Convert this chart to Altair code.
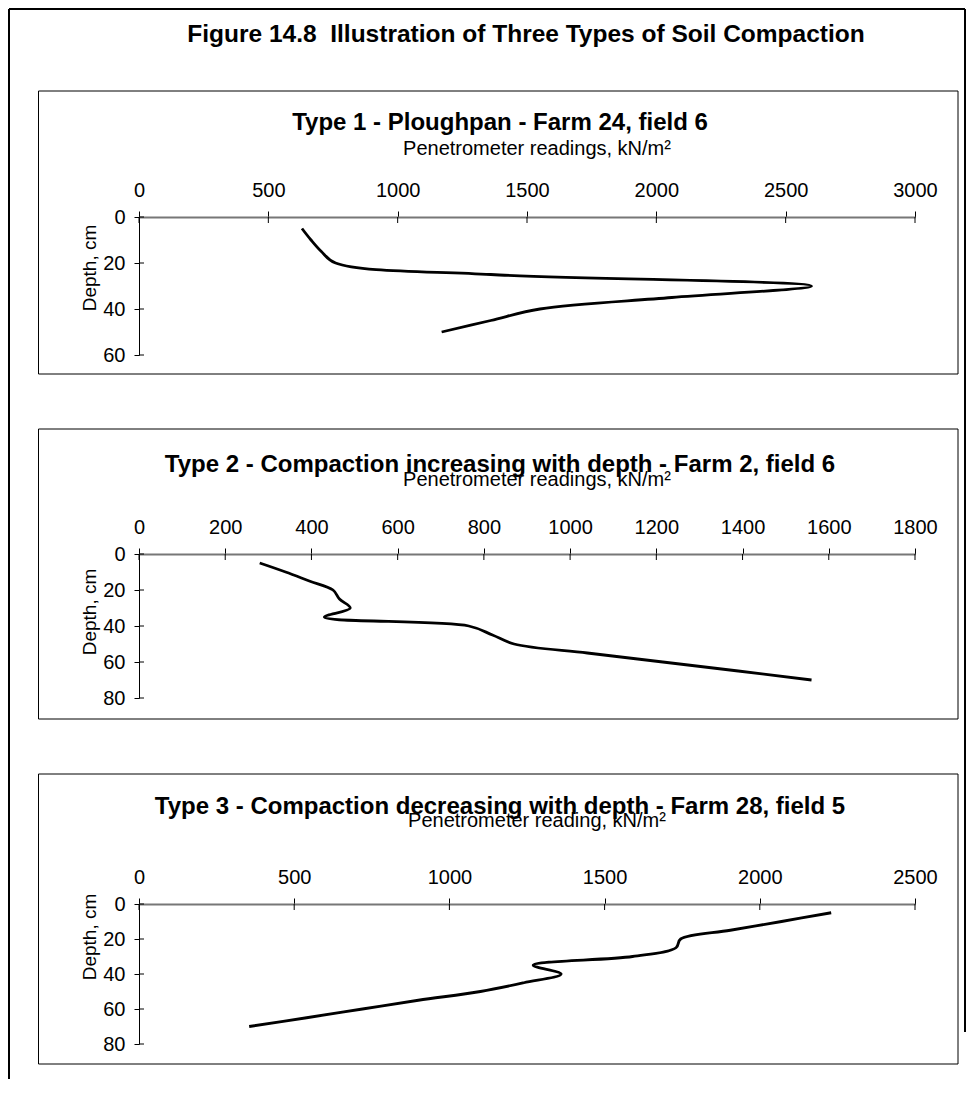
import altair as alt
import pandas as pd

FONT = "Liberation Sans"

# ---------------- data ----------------
p1_depth = [5, 10, 15, 20, 25, 30, 35, 40, 45, 50]
p1_value = [630, 665, 705, 760, 1360, 2600, 2060, 1550, 1360, 1170]

p2_depth = [5, 10, 15, 20, 25, 30, 35, 40, 45, 50, 55, 60, 65, 70]
p2_value = [280, 340, 395, 450, 465, 490, 430, 765, 820, 870, 1040, 1215, 1390, 1560]

p3_depth = [5, 10, 15, 20, 25, 30, 35, 40, 45, 50, 55, 60, 65, 70]
p3_value = [2230, 2070, 1905, 1745, 1730, 1590, 1270, 1360, 1240, 1100, 900, 720, 540, 355]

fig_title = "Figure 14.8\u00a0 Illustration of Three Types of Soil Compaction"
panel_titles = [
    "Type 1 - Ploughpan - Farm 24, field 6",
    "Type 2 - Compaction increasing with depth - Farm 2, field 6",
    "Type 3 - Compaction decreasing with depth - Farm 28, field 5",
]
x_titles = [
    "Penetrometer readings, kN/m²",
    "Penetrometer readings, kN/m²",
    "Penetrometer reading, kN/m²",
]
y_title = "Depth, cm"

x_ticks = [
    [0, 500, 1000, 1500, 2000, 2500, 3000],
    [0, 200, 400, 600, 800, 1000, 1200, 1400, 1600, 1800],
    [0, 500, 1000, 1500, 2000, 2500],
]
y_ticks = [
    [0, 20, 40, 60],
    [0, 20, 40, 60, 80],
    [0, 20, 40, 60, 80],
]

W = 776
layout = [
    dict(h=138, rng=138, fy=-126, fy2=157, ty=-94, sy=-68, yty=51),
    dict(h=151, rng=144, fy=-125, fy2=165, ty=-89, sy=-74, yty=58),
    dict(h=140, rng=140, fy=-130, fy2=160, ty=-97, sy=-83, yty=33),
]


def text_layer(txt, x, y, size, bold=False, angle=0):
    return alt.Chart(pd.DataFrame({"t": [txt]})).mark_text(
        font=FONT, fontSize=size, fontWeight="bold" if bold else "normal",
        align="center", baseline="middle", color="black", angle=angle,
    ).encode(text="t:N", x=alt.value(x), y=alt.value(y))


def panel(i, depth, value, first=False):
    L = layout[i]
    xt = x_ticks[i]
    yt = y_ticks[i]
    xs = alt.Scale(domain=[xt[0], xt[-1]], nice=False, zero=True)
    ys = alt.Scale(domain=[yt[0], yt[-1]], nice=False, range=[0, L["rng"]])
    xaxis = alt.Axis(
        orient="top", values=xt, format="d", title=None, grid=False,
        labelFont=FONT, labelFontSize=20, labelColor="black",
        labelPadding=11, labelFlush=False, labelOverlap=False,
        tickSize=6, tickColor="black", tickWidth=1,
        domainColor="#777777", domainWidth=2)
    yaxis = alt.Axis(
        orient="left", values=yt, format="d", title=None, grid=False,
        labelFont=FONT, labelFontSize=20, labelColor="black",
        labelPadding=9, labelFlush=False, labelOverlap=False,
        tickSize=5, tickColor="black", tickWidth=1,
        domainColor="black", domainWidth=1)

    df = pd.DataFrame({"depth": depth, "value": value, "order": list(range(len(depth)))})
    line = alt.Chart(df).mark_line(
        color="black", strokeWidth=2.8, interpolate="catmull-rom"
    ).encode(
        x=alt.X("value:Q", scale=xs, axis=xaxis),
        y=alt.Y("depth:Q", scale=ys, axis=yaxis),
        order="order:Q",
    )

    xin = alt.Chart(pd.DataFrame({"value": xt})).mark_rule(color="black", strokeWidth=1).encode(
        x=alt.X("value:Q", scale=xs, axis=xaxis), y=alt.value(0), y2=alt.value(6))
    yin = alt.Chart(pd.DataFrame({"depth": yt})).mark_rule(color="black", strokeWidth=1).encode(
        y=alt.Y("depth:Q", scale=ys, axis=yaxis), x=alt.value(0), x2=alt.value(5))

    frame = alt.Chart(pd.DataFrame({"a": [0]})).mark_rect(
        fillOpacity=0, stroke="black", strokeWidth=1
    ).encode(x=alt.value(-100.5), x2=alt.value(819), y=alt.value(L["fy"]), y2=alt.value(L["fy2"]))

    layers = [frame,
              text_layer(panel_titles[i], 361, L["ty"], 24, bold=True),
              text_layer(x_titles[i], 398, L["sy"], 20),
              text_layer(y_title, -49, L["yty"], 19, angle=270),
              line, xin, yin]

    if first:
        outer_left = alt.Chart(pd.DataFrame({"a": [0]})).mark_rule(color="black", strokeWidth=2).encode(
            x=alt.value(-130), y=alt.value(-208), y2=alt.value(862))
        outer_top = alt.Chart(pd.DataFrame({"a": [0]})).mark_rule(color="black", strokeWidth=2).encode(
            x=alt.value(-130), x2=alt.value(826), y=alt.value(-208))
        outer_right = alt.Chart(pd.DataFrame({"a": [0]})).mark_rule(color="black", strokeWidth=2).encode(
            x=alt.value(826), y=alt.value(-208), y2=alt.value(815))
        layers = [outer_left, outer_top, outer_right,
                  text_layer(fig_title, 387, -182, 24.5, bold=True)] + layers

    return alt.layer(*layers).properties(width=W, height=L["h"])


p1 = panel(0, p1_depth, p1_value, first=True)
p2 = panel(1, p2_depth, p2_value)
p3 = panel(2, p3_depth, p3_value)

chart = alt.vconcat(p1, p2, p3, spacing=199, bounds="flush").properties(
    padding=0, background="white"
).configure_view(stroke=None)

chart.save("out.html", embed_options={"renderer": "svg", "actions": False})
